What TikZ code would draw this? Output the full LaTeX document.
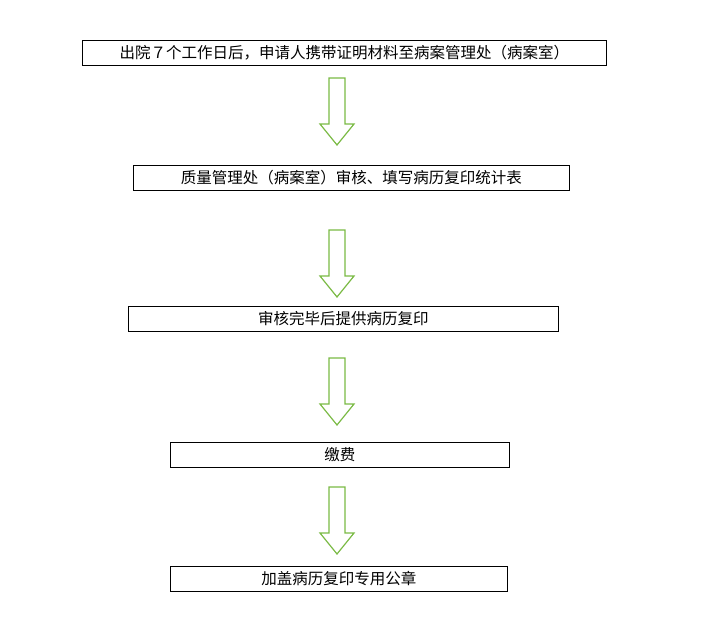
\documentclass[tikz,border=0pt]{standalone}
\usepackage{fontspec}
\setmainfont{Noto Sans CJK SC}
\usetikzlibrary{positioning}
\definecolor{arrowgreen}{RGB}{122,186,68}
\tikzset{
  stepbox/.style={draw, line width=0.8pt, anchor=north west, inner sep=0pt, font=\fontsize{15.5}{18}\selectfont},
  hollowarrow/.style={draw=arrowgreen, line width=1.2pt, fill=white}
}
\newcommand{\downarrowshape}[2]{% x, top y ; length 67
  \draw[hollowarrow] (#1-8,#2) -- (#1+8,#2) -- (#1+8,#2+46) -- (#1+17,#2+46)
    -- (#1,#2+67) -- (#1-17,#2+46) -- (#1-8,#2+46) -- cycle;
}
\begin{document}
\begin{tikzpicture}[x=1pt,y=-1pt]
\useasboundingbox (0,0) rectangle (703,626);
% boxes
\node[stepbox, minimum width=524pt, minimum height=25pt] (s1) at (82,40) {出院７个工作日后，申请人携带证明材料至病案管理处（病案室）};
\node[stepbox, minimum width=436pt, minimum height=25pt] (s2) at (133,165) {质量管理处（病案室）审核、填写病历复印统计表};
\node[stepbox, minimum width=430pt, minimum height=25pt] (s3) at (128,306) {审核完毕后提供病历复印};
\node[stepbox, minimum width=339pt, minimum height=25pt] (s4) at (170,442) {缴费};
\node[stepbox, minimum width=337pt, minimum height=25pt] (s5) at (170,566) {加盖病历复印专用公章};
% arrows
\downarrowshape{337}{78}
\downarrowshape{337}{230}
\downarrowshape{337}{358}
\downarrowshape{337}{487}
\end{tikzpicture}
\end{document}
